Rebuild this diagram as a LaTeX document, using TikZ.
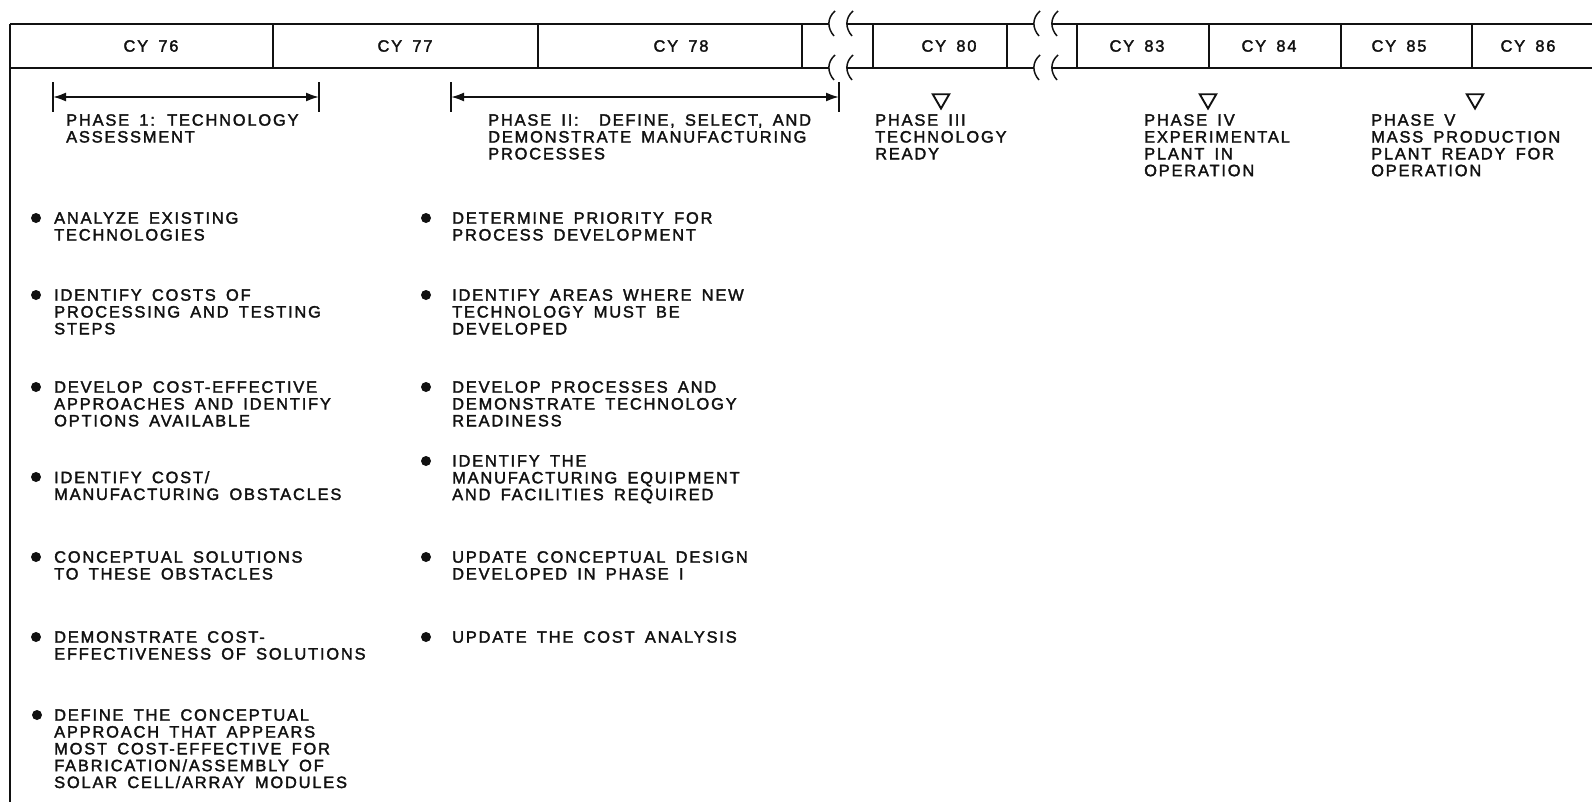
\documentclass[tikz,border=0pt]{standalone}
\usepackage{xcolor}
\usepackage{fontspec}
\setmainfont{Liberation Sans}[LetterSpace=11,WordSpace=1.6,FakeBold=2]
\usepackage{tikz}
\usetikzlibrary{arrows.meta,shapes.geometric}
\definecolor{ink}{HTML}{111111}

\begin{document}
\begin{tikzpicture}[x=1bp,y=-1bp,
  every node/.style={font=\fontsize{16.5}{16.9}\selectfont,text=ink,inner sep=0pt},
  note/.style={anchor=north west,align=left},
  bar/.style={line width=2bp,ink},
  brk/.style={line width=1.5bp,ink},
  tick/.style={line width=1.7bp,ink},
  dim/.style={{Latex[length=13bp,width=9bp]}-{Latex[length=13bp,width=9bp]},line width=1.9bp,ink},
  mile/.style={regular polygon,regular polygon sides=3,shape border rotate=180,draw=ink,line width=1.9bp,minimum size=19bp},
  dot/.style={circle,fill=ink,minimum size=10bp}]
  \useasboundingbox (0,0) rectangle (1592,806);
  \draw[bar] (10,24) -- (829,24) (847,24) -- (1034,24) (1052,24) -- (1592,24);
  \draw[bar] (10,68) -- (829,68) (847,68) -- (1034,68) (1052,68) -- (1592,68);
  \draw[bar] (10,24) -- (10,802);
  \draw[bar] (273,24) -- (273,68) (538,24) -- (538,68) (802,24) -- (802,68)
    (873,24) -- (873,68) (1007,24) -- (1007,68) (1077,24) -- (1077,68)
    (1209,24) -- (1209,68) (1341,24) -- (1341,68) (1472,24) -- (1472,68);
  \draw[brk,shift={(831,24)}] (4,-13) .. controls (-4,-6) and (-4,4) .. (3,12);
  \draw[brk,shift={(849,24)}] (4,-13) .. controls (-4,-6) and (-4,4) .. (3,12);
  \draw[brk,shift={(831,68)}] (4,-13) .. controls (-4,-6) and (-4,4) .. (3,12);
  \draw[brk,shift={(849,68)}] (4,-13) .. controls (-4,-6) and (-4,4) .. (3,12);
  \draw[brk,shift={(1036,24)}] (4,-13) .. controls (-4,-6) and (-4,4) .. (3,12);
  \draw[brk,shift={(1054,24)}] (4,-13) .. controls (-4,-6) and (-4,4) .. (3,12);
  \draw[brk,shift={(1036,68)}] (4,-13) .. controls (-4,-6) and (-4,4) .. (3,12);
  \draw[brk,shift={(1054,68)}] (4,-13) .. controls (-4,-6) and (-4,4) .. (3,12);
  \node (cy76) at (151,46) {CY 76};
  \node (cy77) at (405,46) {CY 77};
  \node (cy78) at (681,46) {CY 78};
  \node (cy80) at (949,46) {CY 80};
  \node (cy83) at (1137,46) {CY 83};
  \node (cy84) at (1269,46) {CY 84};
  \node (cy85) at (1399,46) {CY 85};
  \node (cy86) at (1528,46) {CY 86};
  \coordinate (ph1l) at (53,97);
  \coordinate (ph1r) at (319,97);
  \coordinate (ph2l) at (451,97);
  \coordinate (ph2r) at (839,97);
  \draw[tick] ([yshift=-15]ph1l) -- ([yshift=15]ph1l) ([yshift=-15]ph1r) -- ([yshift=15]ph1r);
  \draw[tick] ([yshift=-15]ph2l) -- ([yshift=15]ph2l) ([yshift=-15]ph2r) -- ([yshift=15]ph2r);
  \draw[dim] (ph1l) -- (ph1r);
  \draw[dim] (ph2l) -- (ph2r);
  \node[mile] (m3) at (941,99) {};
  \node[mile] (m4) at (1208,99) {};
  \node[mile] (m5) at (1475,99) {};
  \node[note] (p1) at (66,114) {PHASE 1: TECHNOLOGY\\ASSESSMENT};
  \node[note] (p2) at (488,114) {PHASE II:\ \ DEFINE, SELECT, AND\\DEMONSTRATE MANUFACTURING\\PROCESSES};
  \node[note] (p3) at (875,114) {PHASE III\\TECHNOLOGY\\READY};
  \node[note] (p4) at (1144,114) {PHASE IV\\EXPERIMENTAL\\PLANT IN\\OPERATION};
  \node[note] (p5) at (1371,114) {PHASE V\\MASS PRODUCTION\\PLANT READY FOR\\OPERATION};
  \node[dot] at (36,218) {};
  \node[note] (a1) at (54,212) {ANALYZE EXISTING\\TECHNOLOGIES};
  \node[dot] at (36,295) {};
  \node[note] (a2) at (54,289) {IDENTIFY COSTS OF\\PROCESSING AND TESTING\\STEPS};
  \node[dot] at (36,387) {};
  \node[note] (a3) at (54,381) {DEVELOP COST-EFFECTIVE\\APPROACHES AND IDENTIFY\\OPTIONS AVAILABLE};
  \node[dot] at (36,477) {};
  \node[note] (a4) at (54,471) {IDENTIFY COST/\\MANUFACTURING OBSTACLES};
  \node[dot] at (36,557) {};
  \node[note] (a5) at (54,551) {CONCEPTUAL SOLUTIONS\\TO THESE OBSTACLES};
  \node[dot] at (36,637) {};
  \node[note] (a6) at (54,631) {DEMONSTRATE COST-\\EFFECTIVENESS OF SOLUTIONS};
  \node[dot] at (37,715) {};
  \node[note] (a7) at (54,709) {DEFINE THE CONCEPTUAL\\APPROACH THAT APPEARS\\MOST COST-EFFECTIVE FOR\\FABRICATION/ASSEMBLY OF\\SOLAR CELL/ARRAY MODULES};
  \node[dot] at (426,218) {};
  \node[note] (b1) at (452,212) {DETERMINE PRIORITY FOR\\PROCESS DEVELOPMENT};
  \node[dot] at (426,295) {};
  \node[note] (b2) at (452,289) {IDENTIFY AREAS WHERE NEW\\TECHNOLOGY MUST BE\\DEVELOPED};
  \node[dot] at (426,387) {};
  \node[note] (b3) at (452,381) {DEVELOP PROCESSES AND\\DEMONSTRATE TECHNOLOGY\\READINESS};
  \node[dot] at (426,461) {};
  \node[note] (b4) at (452,455) {IDENTIFY THE\\MANUFACTURING EQUIPMENT\\AND FACILITIES REQUIRED};
  \node[dot] at (426,557) {};
  \node[note] (b5) at (452,551) {UPDATE CONCEPTUAL DESIGN\\DEVELOPED IN PHASE I};
  \node[dot] at (426,637) {};
  \node[note] (b6) at (452,631) {UPDATE THE COST ANALYSIS};
\end{tikzpicture}
\end{document}
